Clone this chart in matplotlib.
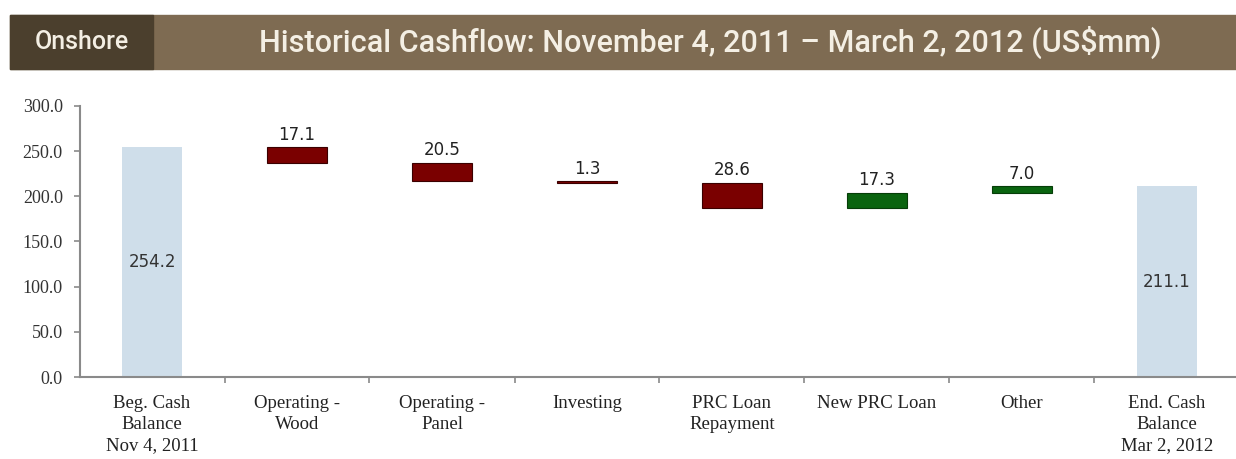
import numpy as np
import matplotlib.pyplot as plt
from matplotlib.patches import Rectangle

# Data (US$mm)
categories = ['Beg. Cash\nBalance\nNov 4, 2011', 'Operating -\nWood', 'Operating -\nPanel',
              'Investing', 'PRC Loan\nRepayment', 'New PRC Loan', 'Other',
              'End. Cash\nBalance\nMar 2, 2012']
begin_balance = 254.2
changes = [-17.1, -20.5, -1.3, -28.6, 17.3, 7.0]
end_balance = 211.1

# Colours
c_total = '#cfdeea'
c_neg = '#7a0000'
c_pos = '#0a640f'
c_dark = '#4b3f2d'
c_band = '#7e6b52'
c_axis = '#8a8a8a'

fig = plt.figure(figsize=(12.36, 4.59), dpi=100)

# Header band
fig.patches.append(Rectangle((10 / 1236, 1 - 69 / 459), 1 - 10 / 1236, 54 / 459,
                             transform=fig.transFigure, color=c_band, zorder=0))
fig.patches.append(Rectangle((10 / 1236, 1 - 69 / 459), 143 / 1236, 54 / 459,
                             transform=fig.transFigure, color=c_dark, zorder=1))
hdr_font = ['Roboto', 'DejaVu Sans']
fig.text(82 / 1236, 1 - 42 / 459, 'Onshore', ha='center', va='center', color='#f4efe4',
         fontsize=18, fontweight='medium', family=hdr_font)
fig.text(710 / 1236, 1 - 42 / 459, 'Historical Cashflow: November 4, 2011 \u2013 March 2, 2012 (US$mm)',
         ha='center', va='center', color='#f4efe4', fontsize=22, fontweight='medium', family=hdr_font)

ax = fig.add_axes([79.5 / 1236, 82 / 459, 1160 / 1236, 271 / 459])

x = np.arange(len(categories))
width = 0.41

# waterfall geometry from the data
levels = begin_balance + np.cumsum([0] + changes)
bottoms = [0]
heights = [begin_balance]
colors = [c_total]
for i, ch in enumerate(changes):
    bottoms.append(min(levels[i], levels[i + 1]))
    heights.append(abs(ch))
    colors.append(c_neg if ch < 0 else c_pos)
bottoms.append(0)
heights.append(end_balance)
colors.append(c_total)

ax.bar(x, heights, width=width, bottom=bottoms, color=colors,
       edgecolor=['none'] + ['#3a0000' if ch < 0 else '#063d08' for ch in changes] + ['none'],
       linewidth=0.8, zorder=2)

# value labels
lab_font = ['DejaVu Sans']
ax.text(x[0], begin_balance / 2, f'{begin_balance:.1f}', ha='center', va='center',
        fontsize=12, color='#333333', family=lab_font)
ax.text(x[-1], end_balance / 2, f'{end_balance:.1f}', ha='center', va='center',
        fontsize=12, color='#333333', family=lab_font)
for i, ch in enumerate(changes):
    top = bottoms[i + 1] + heights[i + 1]
    ax.text(x[i + 1], top + 4, f'{abs(ch):.1f}', ha='center', va='bottom',
            fontsize=12, color='#222222', family=lab_font)

ax.set_xlim(-0.5, 7.5)
ax.set_ylim(0, 300)
ax.set_yticks(np.arange(0, 301, 50))
ax.set_yticklabels([f'{v:.1f}' for v in np.arange(0, 301, 50)], family='Liberation Serif',
                   fontsize=13, color='#333333')
ax.set_xticks(x)
ax.set_xticklabels(categories, family='Liberation Serif', fontsize=13.5, color='#222222',
                   linespacing=1.3)
ax.tick_params(axis='x', which='major', length=0, pad=13)
ax.set_xticks(np.arange(0.5, 7, 1), minor=True)
ax.tick_params(axis='x', which='minor', length=4, width=1.2, color=c_axis, direction='out')
ax.tick_params(axis='y', length=4, width=1.2, color=c_axis, pad=8)

for s in ['top', 'right']:
    ax.spines[s].set_visible(False)
for s in ['left', 'bottom']:
    ax.spines[s].set_color(c_axis)
    ax.spines[s].set_linewidth(1.5)

fig.savefig('out.png', dpi=100)
